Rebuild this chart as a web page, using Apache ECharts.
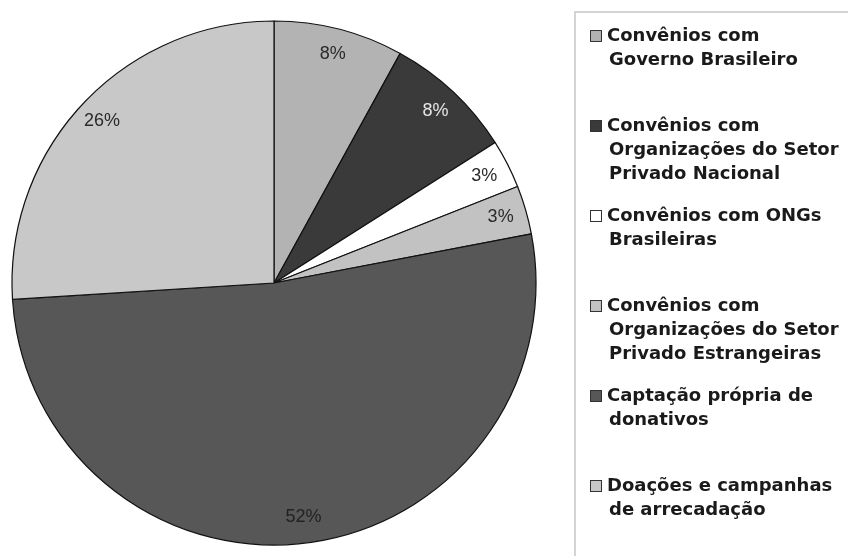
<!DOCTYPE html>
<html>
<head>
<meta charset="utf-8">
<script src="https://cdn.jsdelivr.net/npm/echarts@6/dist/echarts.min.js"></script>
<style>
html,body{margin:0;padding:0;background:#fff;}
#chart{width:848px;height:556px;}
</style>
</head>
<body>
<div id="chart"></div>
<script>
const categories = [
  "Convênios com\nGoverno Brasileiro",
  "Convênios com\nOrganizações do Setor\nPrivado Nacional",
  "Convênios com ONGs\nBrasileiras",
  "Convênios com\nOrganizações do Setor\nPrivado Estrangeiras",
  "Captação própria de\ndonativos",
  "Doações e campanhas\nde arrecadação"
];
const values = [8, 8, 3, 3, 52, 26];
const colors = ["#b3b3b3", "#3a3a3a", "#ffffff", "#c2c2c2", "#575757", "#c8c8c8"];
const labelColors = ["#2a2a2a", "#e6e6e6", "#2a2a2a", "#2a2a2a", "#222222", "#2a2a2a"];

const FONT = "'Liberation Sans', Arial, Helvetica, sans-serif";
const LEGEND_FONT = "'DejaVu Sans', 'Liberation Sans', sans-serif";
const chart = echarts.init(document.getElementById('chart'));

const rich = {
  g: { width: 6, height: 11 },
  p: { width: 18 },
  t: { fontFamily: LEGEND_FONT, fontSize: 18, fontWeight: 'bold', color: '#1a1a1a', lineHeight: 24 }
};
colors.forEach((c, i) => {
  rich['b' + i] = { width: 10, height: 10, backgroundColor: c, borderColor: '#333', borderWidth: 1 };
});

const mainData = categories.map((n, i) => ({ name: n, value: values[i], itemStyle: { color: colors[i] } }));
const labelData = categories.map((n, i) => ({
  name: n, value: values[i],
  label: { color: labelColors[i] }
}));

chart.setOption({
  animation: false,
  backgroundColor: '#fff',
  graphic: [{
    type: 'rect',
    shape: { x: 575, y: 12, width: 320, height: 600 },
    style: { fill: 'none', stroke: '#d4d4d4', lineWidth: 2 },
    silent: true
  }],
  legend: {
    orient: 'vertical',
    left: 585,
    top: 27,
    padding: 0,
    itemGap: 24,
    itemWidth: 0,
    itemHeight: 0,
    icon: 'rect',
    selectedMode: false,
    data: categories,
    formatter: function (name) {
      const i = categories.indexOf(name);
      const lines = name.split('\n');
      while (lines.length < 3) lines.push(' ');
      return lines.map((l, k) => (k === 0 ? '{b' + i + '|}{g|}' : '{p|}') + '{t|' + l + '}').join('\n');
    },
    textStyle: { rich: rich }
  },
  series: [
    {
      type: 'pie',
      center: [274, 283],
      radius: [0, 262],
      startAngle: 90,
      clockwise: true,
      silent: true,
      label: { show: false },
      labelLine: { show: false },
      itemStyle: { borderColor: '#111', borderWidth: 1.2 },
      emphasis: { disabled: true },
      data: mainData
    },
    {
      type: 'pie',
      center: [274, 283],
      radius: [204, 262],
      startAngle: 90,
      clockwise: true,
      silent: true,
      itemStyle: { color: 'rgba(0,0,0,0)', borderWidth: 0 },
      label: {
        show: true,
        position: 'inside',
        fontFamily: FONT,
        fontSize: 18,
        formatter: p => p.value + '%'
      },
      labelLine: { show: false },
      emphasis: { disabled: true },
      data: labelData
    }
  ]
});
</script>
</body>
</html>
